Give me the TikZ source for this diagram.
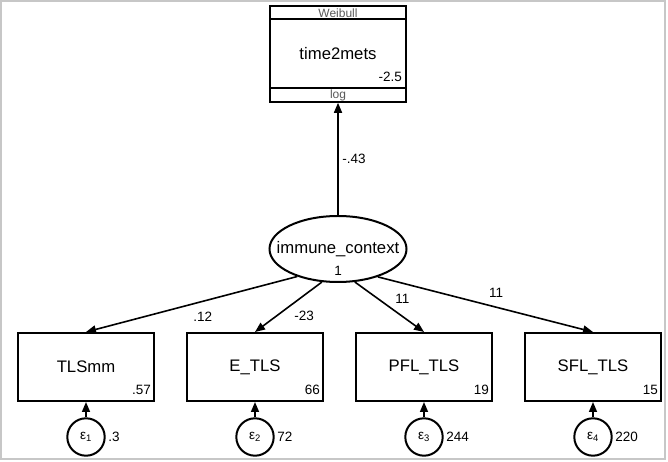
\documentclass[tikz,border=0pt]{standalone}
\usepackage{fontspec}
\setmainfont{Liberation Sans}
\usetikzlibrary{arrows.meta,positioning,shapes.geometric}

\begin{document}
\begin{tikzpicture}[x=1pt,y=1pt,node distance=31pt,>={Triangle[length=10pt,width=8pt]}]

      \tikzstyle{obsbox}=[draw,line width=2pt,shape=rectangle,minimum width=136pt,minimum height=68pt,inner sep=0pt,font=\fontsize{16.7}{18}\selectfont]
      \tikzstyle{strip}=[draw,line width=2pt,shape=rectangle,minimum width=136pt,minimum height=13.3pt,inner sep=0pt,text=black!65,font=\fontsize{12}{13}\selectfont]
      \tikzstyle{latent}=[draw,line width=2pt,shape=ellipse,minimum width=137pt,minimum height=66pt,inner sep=0pt,font=\fontsize{16.7}{18}\selectfont]
      \tikzstyle{errc}=[draw,line width=2pt,shape=circle,minimum size=37.4pt,inner sep=0pt,font=\fontsize{13.5}{15}\selectfont]
      \tikzstyle{lbl}=[inner sep=1pt,font=\fontsize{13.5}{15}\selectfont]
      \tikzstyle{path}=[->,line width=1.6pt]

      \useasboundingbox (0,0) rectangle (668,462);
      \draw[black!22,line width=1.5pt] (1,3) rectangle (665,461);

      % outcome with family and link
      \node[obsbox,minimum height=69pt] (t2m) at (338,408) {time2mets};
      \node[strip,above=-2pt of t2m] (weib) {Weibull};
      \node[strip,below=-2pt of t2m] (lg) {log};
      \node[lbl,anchor=south east] (vt2m) at ([shift={(-4pt,6.6pt)}]t2m.south east) {-2.5};

      \node[latent] (ctx) at (338,213) {\makebox[0pt]{immune\_context}};
      \node[lbl,above=5.8pt of ctx.south] (vctx) {1};

      \node[obsbox] (tlsmm) at (86,95) {TLSmm};
      \node[obsbox] (etls) [right=of tlsmm] {E\_TLS};
      \node[obsbox] (pfl) [right=of etls] {PFL\_TLS};
      \node[obsbox] (sfl) [right=of pfl] {SFL\_TLS};

      \node[lbl,anchor=south east] (vtls) at ([shift={(-3pt,6.5pt)}]tlsmm.south east) {.57};
      \node[lbl,anchor=south east] (vetls) at ([shift={(-3pt,6.5pt)}]etls.south east) {66};
      \node[lbl,anchor=south east] (vpfl) at ([shift={(-3pt,6.5pt)}]pfl.south east) {19};
      \node[lbl,anchor=south east] (vsfl) at ([shift={(-3pt,6.5pt)}]sfl.south east) {15};

      \node[errc,below=15.3pt of tlsmm] (e1) {ε\textsubscript{1}};
      \node[errc,below=15.3pt of etls] (e2) {ε\textsubscript{2}};
      \node[errc,below=15.3pt of pfl] (e3) {ε\textsubscript{3}};
      \node[errc,below=15.3pt of sfl] (e4) {ε\textsubscript{4}};

      \node[lbl,right=1.5pt of e1] (ve1) {.3};
      \node[lbl,right=1.5pt of e2] (ve2) {72};
      \node[lbl,right=1.5pt of e3] (ve3) {244};
      \node[lbl,right=1.5pt of e4] (ve4) {220};

      \path [path] (ctx) edge node[lbl,pos=0.5,right=2.5pt] (l43) {-.43} (lg);
      \path [path] (ctx.214) edge node[lbl,pos=0.447,below=8.5pt] (l12) {.12} (tlsmm.north);
      \path [path] (ctx.244) edge node[lbl,pos=0.67,right=15.4pt] (l23) {-23} (etls.north);
      \path [path] (ctx.297) edge node[lbl,pos=0.33,right=16pt] (l11a) {11} (pfl.north);
      \path [path] (ctx.325) edge node[lbl,pos=0.55,above=8pt] (l11b) {11} (sfl.north);
      \path [path] (e1) edge (tlsmm);
      \path [path] (e2) edge (etls);
      \path [path] (e3) edge (pfl);
      \path [path] (e4) edge (sfl);
    \end{tikzpicture}
\end{document}
